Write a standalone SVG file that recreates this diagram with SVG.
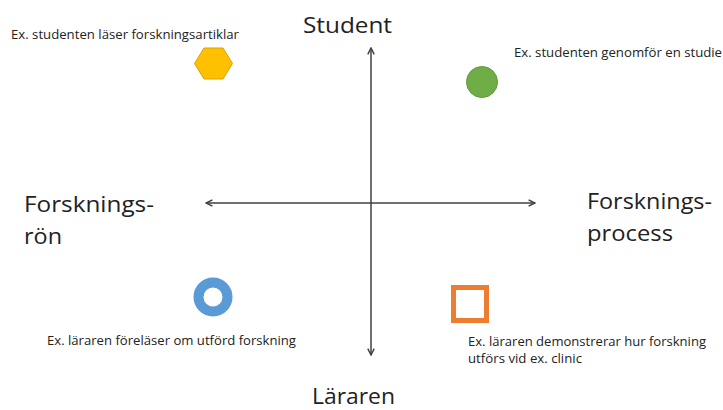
<svg xmlns="http://www.w3.org/2000/svg" width="723" height="410" viewBox="0 0 723 410">
<style>
.big{font-family:"Open Sans","Liberation Sans",Arial,sans-serif;font-size:21px;fill:#222}
.small{font-family:"Open Sans","Liberation Sans",Arial,sans-serif;font-size:12px;fill:#222}
.axis{stroke:#404040;stroke-width:1.5;fill:none}
</style>
<defs>
<marker id="ah" viewBox="0 0 10 10" refX="9" refY="5" markerWidth="8" markerHeight="8" markerUnits="userSpaceOnUse" orient="auto-start-reverse">
<path d="M1,1 L9,5 L1,9" fill="none" stroke="#404040" stroke-width="1.8"/>
</marker>
</defs>
<rect width="723" height="410" fill="#fff"/>
<g id="connectors">
<line class="axis" x1="371" y1="48" x2="371" y2="355" marker-start="url(#ah)" marker-end="url(#ah)"/>
<line class="axis" x1="206" y1="203" x2="535" y2="203" marker-start="url(#ah)" marker-end="url(#ah)"/>
</g>
<g id="label-student"><text class="big" x="303" y="33" textLength="89" lengthAdjust="spacingAndGlyphs">Student</text></g>
<g id="label-lararen"><text class="big" x="312" y="404" textLength="83" lengthAdjust="spacingAndGlyphs">Läraren</text></g>
<g id="label-ron">
<text class="big" x="24" y="212" textLength="130" lengthAdjust="spacingAndGlyphs">Forsknings-</text>
<text class="big" x="24" y="244" textLength="38" lengthAdjust="spacingAndGlyphs">rön</text>
</g>
<g id="label-process">
<text class="big" x="587" y="209" textLength="125" lengthAdjust="spacingAndGlyphs">Forsknings-</text>
<text class="big" x="587" y="241" textLength="86" lengthAdjust="spacingAndGlyphs">process</text>
</g>
<g id="node-hexagon">
<polygon points="194.5,63.5 204,48 223,48 232.5,63.5 223,79 204,79" fill="#FFC000" stroke="#D9A300" stroke-width="1"/>
<text class="small" x="11" y="39" textLength="228" lengthAdjust="spacingAndGlyphs">Ex. studenten läser forskningsartiklar</text>
</g>
<g id="node-circle">
<circle cx="482" cy="82" r="15.5" fill="#70AD47" stroke="#5E9A3A" stroke-width="1"/>
<text class="small" x="514" y="57" textLength="208" lengthAdjust="spacingAndGlyphs">Ex. studenten genomför en studie</text>
</g>
<g id="node-ring">
<circle cx="213" cy="297" r="14.5" fill="none" stroke="#5B9BD5" stroke-width="10"/>
<text class="small" x="47" y="345" textLength="249" lengthAdjust="spacingAndGlyphs">Ex. läraren föreläser om utförd forskning</text>
</g>
<g id="node-square">
<rect x="453.5" y="287.5" width="33" height="33" fill="#fff" stroke="#ED7D31" stroke-width="5"/>
<text class="small" x="468" y="346" textLength="238" lengthAdjust="spacingAndGlyphs">Ex. läraren demonstrerar hur forskning</text>
<text class="small" x="468" y="363" textLength="114" lengthAdjust="spacingAndGlyphs">utförs vid ex. clinic</text>
</g>
</svg>
